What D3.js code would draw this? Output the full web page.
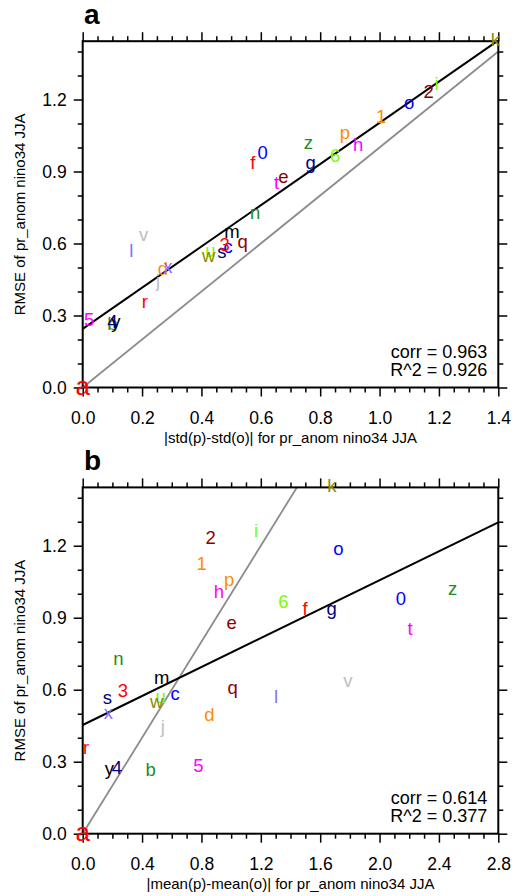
<!DOCTYPE html>
<html>
<head>
<meta charset="utf-8">
<script src="https://cdn.jsdelivr.net/npm/d3@7"></script>
<style>
  html, body { margin: 0; padding: 0; background: #fff; }
  svg { display: block; font-family: "Liberation Sans", Arial, Helvetica, sans-serif; }
</style>
</head>
<body>
<svg id="chart" width="512" height="896"></svg>
<script>
// Model labels (a = observations) and their statistics
const labels = ["a","b","c","d","e","f","g","h","i","j","k","l","m","n","o","p","q",
                "r","s","t","u","v","w","x","y","z","0","1","2","3","4","5","6"];
// |std(p) - std(o)|
const stdDiff = [0.000,0.100,0.490,0.270,0.676,0.573,0.768,0.928,1.192,0.254,1.390,0.164,0.503,0.581,1.100,0.883,0.539,
                 0.209,0.469,0.653,0.430,0.205,0.424,0.287,0.112,0.760,0.606,1.005,1.165,0.478,0.100,0.022,0.850];
// |mean(p) - mean(o)|
const meanDiff = [0.000,0.458,0.622,0.853,1.004,1.498,1.678,0.918,1.168,0.539,1.678,1.303,0.532,0.240,1.722,0.986,1.011,
                  0.022,0.166,2.206,0.526,1.786,0.499,0.173,0.180,2.493,2.143,0.802,0.862,0.270,0.230,0.779,1.352];
// RMSE of pr_anom nino34 JJA
const rmse = [0.000,0.262,0.580,0.490,0.873,0.933,0.932,1.005,1.259,0.440,1.443,0.565,0.643,0.722,1.183,1.055,0.602,
              0.352,0.560,0.850,0.565,0.631,0.544,0.497,0.267,1.014,0.972,1.121,1.229,0.590,0.268,0.279,0.962];

// Least-squares fits [intercept, slope] and statistics
const fitStd = [0.244, 0.859];
const fitMean = [0.453, 0.3016];
const statsStd = ["0.963", "0.926"];
const statsMean = ["0.614", "0.377"];

// Axis ticks
const xTicksStd = [0.0, 0.2, 0.4, 0.6, 0.8, 1.0, 1.2, 1.4];
const xTicksMean = [0.0, 0.4, 0.8, 1.2, 1.6, 2.0, 2.4, 2.8];
const yTicks = [0.0, 0.3, 0.6, 0.9, 1.2];

// Colour cycle: observations in red, models cycle through 12 colours
const obsColor = "#ff0000";
const palette = ["#228b22","#0000ff","#ff8c00","#8b0000","#ff0000","#000080",
                 "#ff00ff","#7cfc00","#bebebe","#8b8b00","#8470ff","#000000"];
const colorOf = i => i === 0 ? obsColor : palette[(i - 1) % palette.length];

const svg = d3.select("#chart");
const yMax = d3.max(rmse);

function panel(cfg) {
  const { left, right, top, bottom, xs, xMax, xTicks, xMinorStep, fit, stats, tag, xTitle, id } = cfg;
  const g = svg.append("g");
  const x = d3.scaleLinear().domain([0, xMax]).range([left, right]);
  const y = d3.scaleLinear().domain([0, yMax]).range([bottom, top]);

  const xMinor = d3.range(0, xMax + 1e-9, xMinorStep).filter(v => !xTicks.some(t => Math.abs(t - v) < 1e-9));
  const yMinor = d3.range(0, yMax + 1e-9, 0.1).filter(v => !yTicks.some(t => Math.abs(t - v) < 1e-9));

  // clip region for fitted lines
  svg.append("clipPath").attr("id", id).append("rect")
    .attr("x", left).attr("y", top).attr("width", right - left).attr("height", bottom - top);

  // 1:1 reference line
  g.append("line").attr("clip-path", `url(#${id})`)
    .attr("x1", x(0)).attr("y1", y(0)).attr("x2", x(xMax)).attr("y2", y(xMax))
    .attr("stroke", "#8c8c8c").attr("stroke-width", 1.8);

  // regression line
  g.append("line").attr("clip-path", `url(#${id})`)
    .attr("x1", x(0)).attr("y1", y(fit[0])).attr("x2", x(xMax)).attr("y2", y(fit[0] + fit[1] * xMax))
    .attr("stroke", "#000").attr("stroke-width", 2);

  const fmt = d3.format(".1f");
  const styleAxis = sel => {
    sel.select(".domain").remove();
    sel.selectAll(".tick line").attr("stroke", "#000").attr("stroke-width", 1.5);
    sel.selectAll("text").attr("font-size", 17.5).attr("fill", "#000")
      .attr("font-family", "'Liberation Sans', Arial, sans-serif");
  };

  // major + minor ticks on all four sides, pointing outward
  g.append("g").attr("transform", `translate(0,${bottom})`)
    .call(d3.axisBottom(x).tickValues(xTicks).tickFormat(fmt).tickSize(9).tickPadding(15)).call(styleAxis);
  g.append("g").attr("transform", `translate(0,${bottom})`)
    .call(d3.axisBottom(x).tickValues(xMinor).tickFormat("").tickSize(5)).call(styleAxis);
  g.append("g").attr("transform", `translate(0,${top})`)
    .call(d3.axisTop(x).tickValues(xTicks).tickFormat("").tickSize(9)).call(styleAxis);
  g.append("g").attr("transform", `translate(0,${top})`)
    .call(d3.axisTop(x).tickValues(xMinor).tickFormat("").tickSize(5)).call(styleAxis);
  g.append("g").attr("transform", `translate(${left},0)`)
    .call(d3.axisLeft(y).tickValues(yTicks).tickFormat(fmt).tickSize(9).tickPadding(7)).call(styleAxis);
  g.append("g").attr("transform", `translate(${left},0)`)
    .call(d3.axisLeft(y).tickValues(yMinor).tickFormat("").tickSize(5)).call(styleAxis);
  g.append("g").attr("transform", `translate(${right},0)`)
    .call(d3.axisRight(y).tickValues(yTicks).tickFormat("").tickSize(9)).call(styleAxis);
  g.append("g").attr("transform", `translate(${right},0)`)
    .call(d3.axisRight(y).tickValues(yMinor).tickFormat("").tickSize(5)).call(styleAxis);

  // frame
  g.append("rect").attr("x", left).attr("y", top).attr("width", right - left).attr("height", bottom - top)
    .attr("fill", "none").attr("stroke", "#000").attr("stroke-width", 2);

  // axis titles
  g.append("text").attr("x", (left + right) / 2).attr("y", bottom + 55.5)
    .attr("text-anchor", "middle").attr("font-size", 15).text(xTitle);
  g.append("text").attr("transform", `translate(25,${(top + bottom) / 2}) rotate(-90)`)
    .attr("text-anchor", "middle").attr("font-size", 15).text("RMSE of pr_anom nino34 JJA");

  // panel tag
  g.append("text").attr("x", 84).attr("y", top - 17).attr("font-size", 28).attr("font-weight", "bold").text(tag);

  // statistics
  g.append("text").attr("x", right - 11).attr("y", bottom - 29.5).attr("text-anchor", "end")
    .attr("font-size", 18).text(`corr = ${stats[0]}`);
  g.append("text").attr("x", right - 11).attr("y", bottom - 11.7).attr("text-anchor", "end")
    .attr("font-size", 18).text(`R^2 = ${stats[1]}`);

  // model markers drawn as their letter labels (observations slightly larger)
  g.append("g").selectAll("text").data(labels).join("text")
    .attr("x", (d, i) => x(xs[i])).attr("y", (d, i) => y(rmse[i]))
    .attr("dy", "0.27em").attr("text-anchor", "middle")
    .attr("font-size", (d, i) => i === 0 ? 26 : 18.5)
    .attr("fill", (d, i) => colorOf(i)).text(d => d);
}

panel({ id: "clipA", left: 82.7, right: 498.3, top: 41.2, bottom: 387.5,
        xs: stdDiff, xMax: 1.4, xTicks: xTicksStd, xMinorStep: 0.05, fit: fitStd, stats: statsStd,
        tag: "a", xTitle: "|std(p)-std(o)| for pr_anom nino34 JJA" });
panel({ id: "clipB", left: 82.7, right: 498.3, top: 487.4, bottom: 833.7,
        xs: meanDiff, xMax: 2.8, xTicks: xTicksMean, xMinorStep: 0.1, fit: fitMean, stats: statsMean,
        tag: "b", xTitle: "|mean(p)-mean(o)| for pr_anom nino34 JJA" });
</script>
</body>
</html>
